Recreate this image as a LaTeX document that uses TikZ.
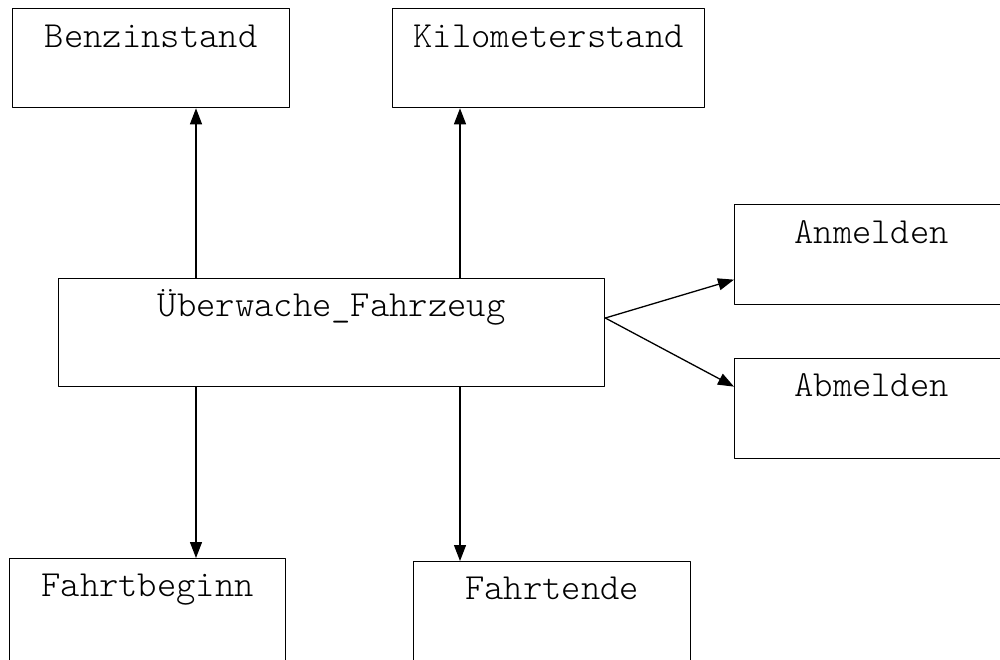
\documentclass[tikz,border=0pt]{standalone}
\usepackage{fontspec}
\usepackage{tikz}
\usetikzlibrary{arrows.meta}
\newfontfamily\boxFont{Latin Modern Mono Light}

\tikzset{
	module/.style={draw, line width=1.3pt, inner sep=0pt, anchor=north west,
		font=\boxFont\fontsize{36.8}{40}\selectfont, text height=38pt},
	call/.style={line width=1.3pt, -{Triangle[length=16pt, width=12pt]}}
}

\begin{document}
\begin{tikzpicture}[x=1pt, y=-1pt, line cap=round, line join=round]
	\useasboundingbox (0,0) rectangle (1000,659);
	\clip (0,0) rectangle (1000,659);
	% modules
	\node[module, minimum width=277pt, text height=39pt, text depth=60pt] (benz) at (12,8) {Benzinstand};
	\node[module, minimum width=312pt, text height=39pt, text depth=60pt] (km) at (392,8) {Kilometerstand};
	\node[module, minimum width=274pt, text height=39pt, text depth=61pt] (anm) at (734,204) {Anmelden};
	\node[module, minimum width=274pt, text depth=62pt] (abm) at (734,358) {Abmelden};
	\node[module, minimum width=546pt, text depth=70pt] (main) at (58,278) {Überwache\_Fahrzeug};
	\node[module, minimum width=276pt, text depth=72pt] (fbeg) at (9,558) {Fahrtbeginn};
	\node[module, minimum width=277pt, text depth=72pt] (fend) at (413,561) {Fahrtende};
	% columns of the vertical calls
	\coordinate (colL) at (196,0);
	\coordinate (colR) at (460,0);
	\coordinate (fork) at ([yshift=-40pt]main.north east);
	% calls
	\draw[call] (main.north -| colL) -- (benz.south -| colL);
	\draw[call] (main.north -| colR) -- (km.south -| colR);
	\draw[call] (main.south -| colL) -- (fbeg.north -| colL);
	\draw[call] (main.south -| colR) -- (fend.north -| colR);
	\draw[call] (fork) -- ([yshift=-25pt]anm.west);
	\draw[call] (fork) -- ([yshift=22pt]abm.west);
\end{tikzpicture}
\end{document}
